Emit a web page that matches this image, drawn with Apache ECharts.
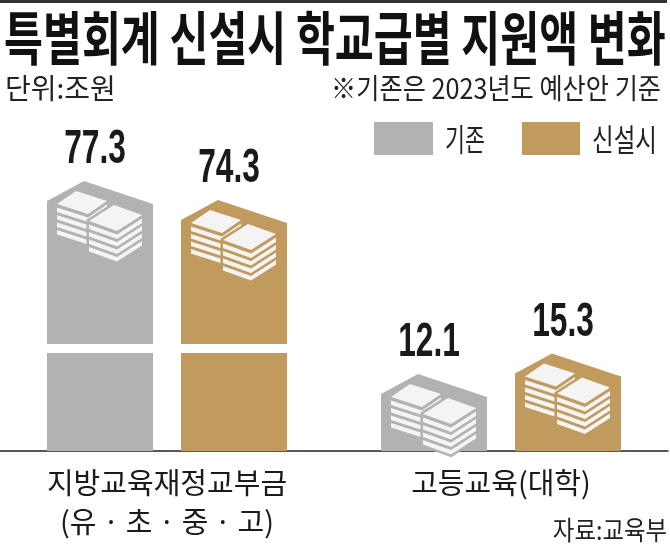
<!DOCTYPE html>
<html>
<head>
<meta charset="utf-8">
<script src="https://cdn.jsdelivr.net/npm/echarts@6.0.0/dist/echarts.min.js"></script>
<style>
html, body { margin: 0; padding: 0; background: #fff; }
#main { width: 670px; height: 546px; }
</style>
</head>
<body>
<div id="main"></div>
<script>
// 데이터 (단위: 조원)
var categories = ['지방교육재정교부금\n(유 · 초 · 중 · 고)', '고등교육(대학)'];
var seriesNames = ['기존', '신설시'];
var baseValues = [77.3, 12.1];   // 기존
var newValues = [74.3, 15.3];    // 신설시
var colors = ['#b2b2b2', '#c19a5e'];
var axisBreak = { start: 15.4, end: 51.7, gap: 1.4 };

var KR = "'Noto Sans CJK KR', sans-serif";
var BAR_W = 106, INNER_GAP = 28;

// 책 더미 아이콘 (막대 꼭대기 기준 상대 좌표)
var leftFace = [[10, 23], [29, 10], [60, 20], [41, 33]];
var rightFace = [[42, 40], [67, 24], [95, 34], [70, 50]];
var LAYERS = 4, STEP = 7.5, FIRST = 3.5, THICK = 4.5;

function shift(pts, x0, y0, dy) {
    return pts.map(function (p) { return [x0 + p[0], y0 + p[1] + dy]; });
}

function stack(face, x0, y0, children) {
    children.push({ type: 'polygon', shape: { points: shift(face, x0, y0, 0) }, style: { fill: '#f4f4f4' } });
    var L = face[0], R = face[2], B = face[3];
    for (var i = 0; i < LAYERS; i++) {
        var k = FIRST + STEP * i;
        var pts = [[L[0], L[1] + k], [B[0], B[1] + k], [R[0], R[1] + k],
                   [R[0], R[1] + k + THICK], [B[0], B[1] + k + THICK], [L[0], L[1] + k + THICK]];
        children.push({ type: 'polygon', shape: { points: shift(pts, x0, y0, 0) }, style: { fill: '#f4f4f4' } });
    }
}

function renderHouse(params, api) {
    var idx = params.seriesIndex;
    var cat = api.value(0);
    var val = api.value(1);
    var basePt = api.coord([cat, 0]);
    var topPt = api.coord([cat, val]);
    var base = basePt[1];
    var x0 = basePt[0] + (idx === 0 ? -INNER_GAP / 2 - BAR_W : INNER_GAP / 2);
    var py = topPt[1];
    var color = colors[idx];
    var children = [];

    children.push({
        type: 'polygon',
        shape: { points: [[x0, base], [x0, py + 20], [x0 + 37, py], [x0 + BAR_W, py + 23], [x0 + BAR_W, base]] },
        style: { fill: color }
    });

    if (val > axisBreak.end) {
        var yS = api.coord([cat, axisBreak.start])[1];
        var yE = api.coord([cat, axisBreak.end])[1];
        children.push({
            type: 'rect',
            shape: { x: x0 - 1, y: yE, width: BAR_W + 2, height: yS - yE },
            style: { fill: '#fff' }
        });
    }

    stack(leftFace, x0, py, children);
    var kmax = FIRST + STEP * (LAYERS - 1) + THICK;
    var R = rightFace;
    children.push({
        type: 'polygon',
        shape: { points: shift([R[0], R[1], R[2], [R[2][0], R[2][1] + kmax], [R[3][0], R[3][1] + kmax], [R[0][0], R[0][1] + kmax]], x0, py, 0) },
        style: { fill: color, stroke: color, lineWidth: 5 }
    });
    stack(rightFace, x0, py, children);

    children.push({
        type: 'text',
        x: x0 + BAR_W / 2 - 5,
        y: py - 31,
        scaleX: 0.66,
        style: {
            text: val.toFixed(1),
            font: 'bold 48px "Liberation Sans", Arial, sans-serif',
            fill: '#1a1a1a',
            textAlign: 'center',
            textVerticalAlign: 'middle'
        }
    });

    return { type: 'group', children: children };
}

var myChart = echarts.init(document.getElementById('main'));

var option = {
    backgroundColor: '#fff',
    animation: false,
    grid: { left: -6, right: 2, top: 181, bottom: 95 },
    xAxis: {
        type: 'category',
        data: categories,
        axisLine: { lineStyle: { color: '#222', width: 1.5 } },
        axisTick: { show: false },
        axisLabel: {
            fontFamily: KR,
            fontSize: 29,
            color: '#1a1a1a',
            lineHeight: 39,
            margin: 12
        }
    },
    yAxis: {
        type: 'value',
        min: 0,
        max: 77.3,
        breaks: [axisBreak],
        breakArea: { show: false },
        axisLine: { show: false },
        axisTick: { show: false },
        axisLabel: { show: false },
        splitLine: { show: false }
    },
    series: [
        {
            name: seriesNames[0],
            type: 'custom',
            clip: false,
            itemStyle: { color: colors[0] },
            encode: { x: 0, y: 1 },
            renderItem: renderHouse,
            data: baseValues.map(function (v, i) { return [i, v]; })
        },
        {
            name: seriesNames[1],
            type: 'custom',
            clip: false,
            itemStyle: { color: colors[1] },
            encode: { x: 0, y: 1 },
            renderItem: renderHouse,
            data: newValues.map(function (v, i) { return [i, v]; })
        }
    ],
    graphic: [
        { type: 'rect', shape: { x: 0, y: 0, width: 667, height: 3 }, style: { fill: '#333' } },
        {
            type: 'text', x: 4, y: 38, scaleX: 0.73,
            style: { text: '특별회계 신설시 학교급별 지원액 변화', font: 'bold 58px ' + KR, fill: '#111', textAlign: 'left', textVerticalAlign: 'middle' }
        },
        {
            type: 'text', x: 5, y: 88, scaleX: 1.0,
            style: { text: '단위:조원', font: '28px ' + KR, fill: '#222', textAlign: 'left', textVerticalAlign: 'middle' }
        },
        {
            type: 'text', x: 661, y: 88, scaleX: 0.9,
            style: { text: '※기존은 2023년도 예산안 기준', font: '28px ' + KR, fill: '#222', textAlign: 'right', textVerticalAlign: 'middle' }
        },
        { type: 'rect', shape: { x: 374, y: 122, width: 59, height: 33 }, style: { fill: colors[0] } },
        {
            type: 'text', x: 445, y: 139, scaleX: 0.7,
            style: { text: seriesNames[0], font: '31px ' + KR, fill: '#222', textAlign: 'left', textVerticalAlign: 'middle' }
        },
        { type: 'rect', shape: { x: 522, y: 122, width: 58, height: 33 }, style: { fill: colors[1] } },
        {
            type: 'text', x: 592, y: 139, scaleX: 0.76,
            style: { text: seriesNames[1], font: '31px ' + KR, fill: '#222', textAlign: 'left', textVerticalAlign: 'middle' }
        },
        {
            type: 'text', x: 667, y: 530, scaleX: 0.9,
            style: { text: '자료:교육부', font: '26px ' + KR, fill: '#222', textAlign: 'right', textVerticalAlign: 'middle' }
        }
    ]
};

myChart.setOption(option);
</script>
</body>
</html>
